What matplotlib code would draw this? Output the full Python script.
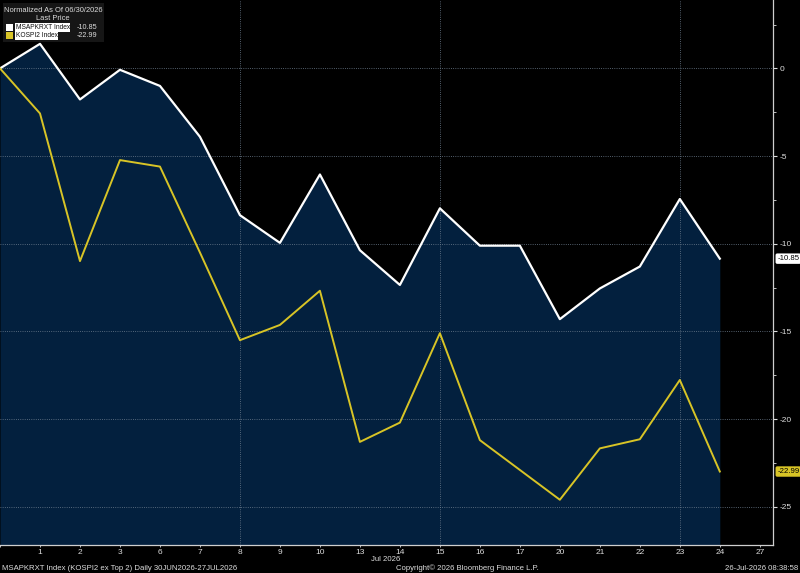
import numpy as np
import matplotlib.pyplot as plt
from matplotlib.patches import Rectangle
from matplotlib.transforms import blended_transform_factory

# trading days, 30 Jun 2026 .. 27 Jul 2026
day_labels = ['', '1', '2', '3', '6', '7', '8', '9', '10', '13', '14', '15',
              '16', '17', '20', '21', '22', '23', '24', '27']
msapkrxt = [0, 1.4, -1.77, -0.08, -1.0, -3.9, -8.37, -9.95, -6.05, -10.37,
            -12.35, -7.98, -10.11, -10.11, -14.3, -12.55, -11.3, -7.45, -10.85]
kospi2 = [0, -2.57, -10.99, -5.23, -5.6, -10.5, -15.5, -14.63, -12.68, -21.3,
          -20.2, -15.1, -21.2, -22.9, -24.6, -21.67, -21.15, -17.77, -22.99]
y_ticks = [0, -5, -10, -15, -20, -25]
vgrid_days = ['8', '15', '23']

plt.rcParams['font.family'] = ['Liberation Sans', 'DejaVu Sans']

navy = '#03203e'
yellow = '#d8c426'
txt = '#dddddd'
W, H = 800, 573
ymin, ymax = -27.18, 3.9
fs = 5.2

fig = plt.figure(figsize=(W / 100, H / 100), dpi=100, facecolor='black')
ax = fig.add_axes([0.0, 1 - 545 / H, 773 / W, 545 / H])
ax.set_facecolor('black')

x = np.arange(len(msapkrxt))
ax.fill_between(x, msapkrxt, ymin, color=navy, lw=0, zorder=1)
ax.plot(x, msapkrxt, color='white', lw=1.6, zorder=3)
ax.plot(x, kospi2, color=yellow, lw=1.4, zorder=3)

ax.set_xlim(0, 19.33)
ax.set_ylim(ymin, ymax)

# right axis
ax.yaxis.tick_right()
ax.set_yticks(y_ticks)
ax.set_yticklabels([str(v) for v in y_ticks])
ax.set_yticks(np.arange(2.5, -27.5, -5), minor=True)
ax.tick_params(axis='y', which='major', colors=txt, labelsize=fs + 0.8,
               length=3, width=0.8, pad=1.5)
ax.tick_params(axis='y', which='minor', colors=txt, length=2, width=0.6)
ax.set_xticks(np.arange(len(day_labels)))
ax.set_xticklabels(day_labels)
ax.tick_params(axis='x', colors=txt, labelsize=fs + 0.8, length=1.5, width=0.6, pad=1.5)

for s in ['top', 'left']:
    ax.spines[s].set_visible(False)
for s in ['right', 'bottom']:
    ax.spines[s].set_color('#cfcfcf')
    ax.spines[s].set_linewidth(0.9)

ax.yaxis.grid(True, ls=':', color='#6f7f90', lw=0.6)
for d in vgrid_days:
    ax.axvline(day_labels.index(d), ls=':', color='#6f7f90', lw=0.6, zorder=1.5)

# last value tags on the right
tr = blended_transform_factory(ax.transAxes, ax.transData)
ax.text(1.0055, msapkrxt[-1], f'{msapkrxt[-1]:.2f}', transform=tr, ha='left', va='center',
        fontsize=fs + 0.4, color='black', clip_on=False,
        bbox=dict(boxstyle='round,pad=0.22', fc='white', ec='none'))
ax.text(1.0055, kospi2[-1], f'{kospi2[-1]:.2f}', transform=tr, ha='left', va='center',
        fontsize=fs + 0.4, color='black', clip_on=False,
        bbox=dict(boxstyle='round,pad=0.22', fc=yellow, ec='none'))

# legend box
def fx(px):
    return px / W

def fy(py):
    return 1 - py / H

fig.patches.append(Rectangle((fx(3), fy(42)), 101 / W, 39 / H, transform=fig.transFigure,
                             fc='#161616', ec='none', zorder=5))
fig.text(fx(53), fy(10), 'Normalized As Of 06/30/2026', ha='center', va='center',
         fontsize=fs + 0.2, color=txt, zorder=6)
fig.text(fx(53), fy(19), 'Last Price', ha='center', va='center',
         fontsize=fs + 0.2, color=txt, zorder=6)
rows = [('MSAPKRXT Index', msapkrxt[-1], 'white', 27.5),
        ('KOSPI2 Index', kospi2[-1], yellow, 35.5)]
for name, val, col, py in rows:
    fig.patches.append(Rectangle((fx(6), fy(py + 3.5)), 7 / W, 7 / H, transform=fig.transFigure,
                                 fc=col, ec='none', zorder=6))
    fig.text(fx(15.5), fy(py), name, ha='left', va='center', fontsize=fs - 0.4, color='#111111',
             zorder=7, bbox=dict(boxstyle='square,pad=0.08', fc='white', ec='none'))
    fig.text(fx(97), fy(py), f'{val:.2f}', ha='right', va='center', fontsize=fs,
             color=txt, zorder=7)

# footer
fig.text(fx(386), fy(559.5), 'Jul 2026', ha='center', va='center', fontsize=fs + 0.4, color=txt)
fig.text(fx(2), fy(568), 'MSAPKRXT Index (KOSPI2 ex Top 2) Daily 30JUN2026-27JUL2026',
         ha='left', va='center', fontsize=fs + 0.4, color=txt)
fig.text(fx(467), fy(568), 'Copyright\u00a9 2026 Bloomberg Finance L.P.',
         ha='center', va='center', fontsize=fs + 0.4, color=txt)
fig.text(fx(798), fy(568), '26-Jul-2026 08:38:58', ha='right', va='center',
         fontsize=fs + 0.4, color=txt)

fig.savefig('out.png', dpi=100, facecolor='black')
